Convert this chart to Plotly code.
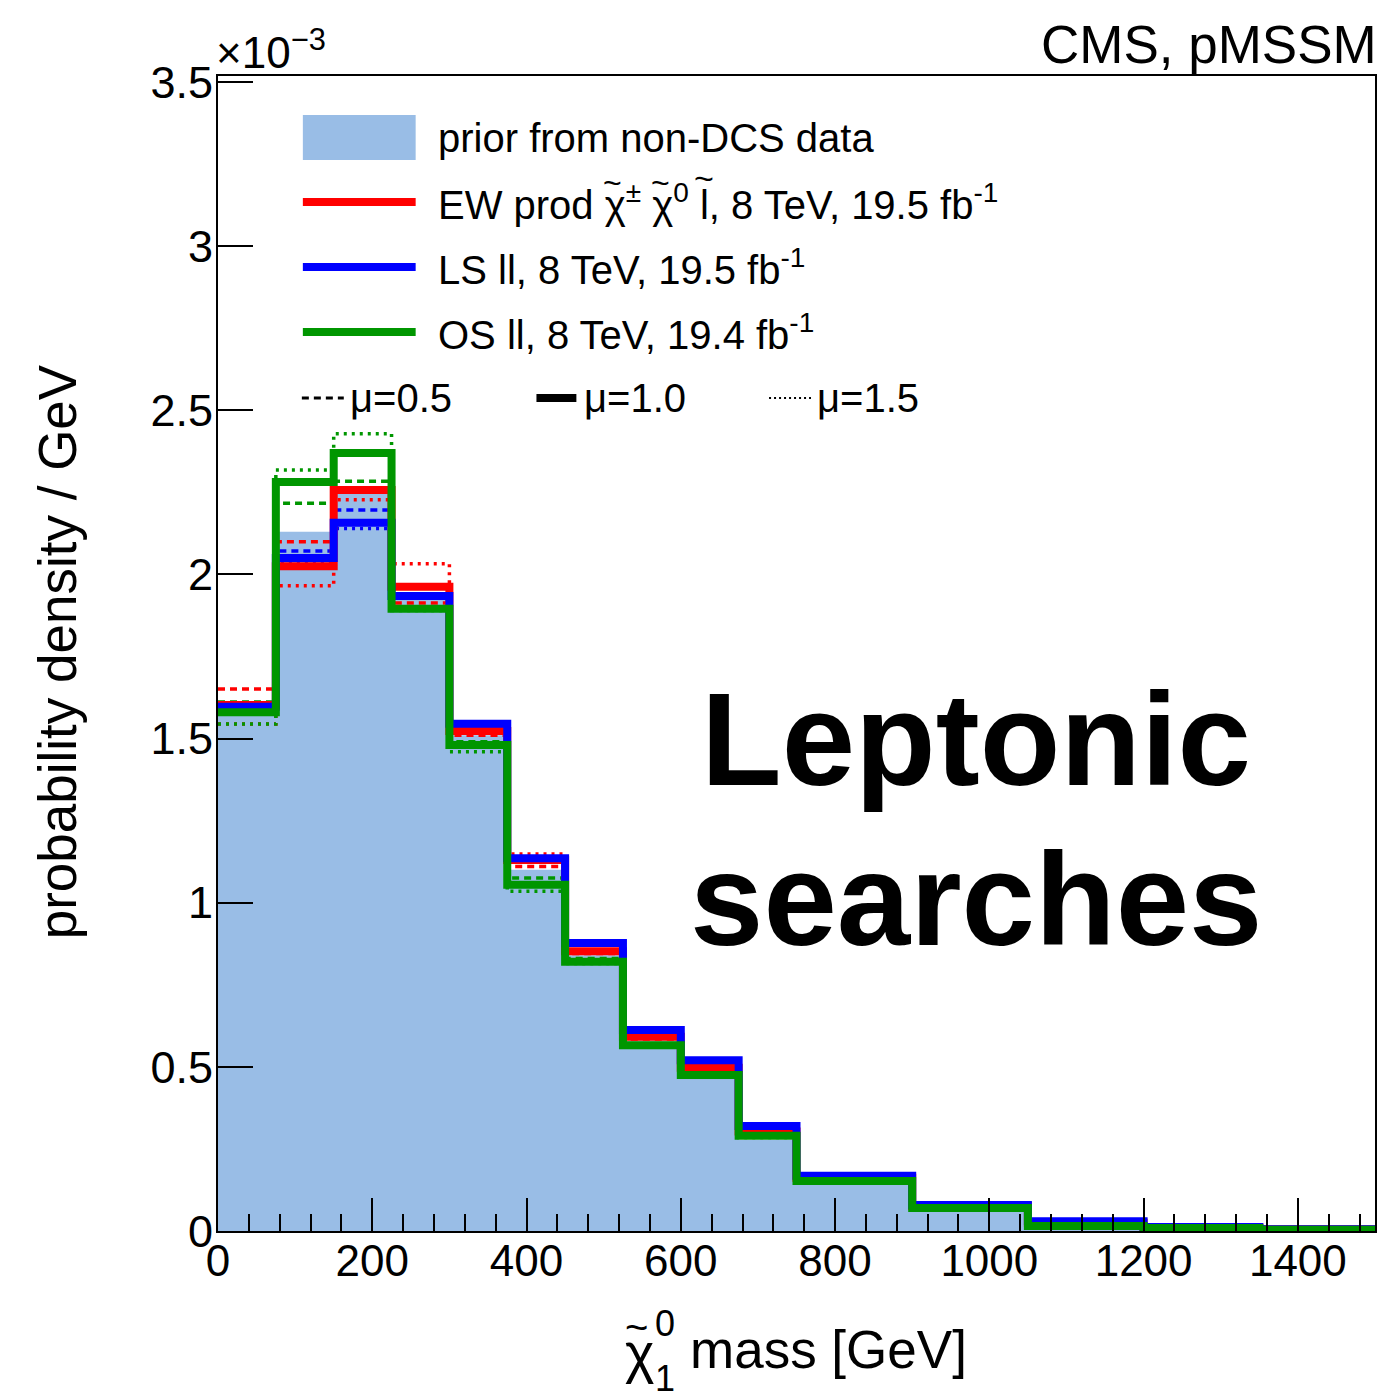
import plotly.graph_objects as go

# ---------------- data (probability density / GeV, in units of 1e-3) ----------------
edges = [0, 75, 150, 225, 300, 375, 450, 525, 600, 675, 750, 900, 1050, 1200, 1350, 1500]

prior = [1.59, 2.13, 2.245, 1.93, 1.51, 1.10, 0.84, 0.58, 0.49, 0.277, 0.14, 0.058, 0.015, 0.007, 0.003]

ew_mu05 = [1.651, 2.099, 2.262, 1.913, 1.510, 1.110, 0.845, 0.585, 0.490, 0.300, 0.160, 0.075, 0.028, 0.011, 0.005]
ew_mu10 = [1.602, 2.025, 2.257, 1.962, 1.523, 1.130, 0.852, 0.592, 0.497, 0.303, 0.162, 0.076, 0.025, 0.011, 0.005]
ew_mu15 = [1.544, 1.965, 2.227, 2.032, 1.525, 1.148, 0.857, 0.594, 0.500, 0.305, 0.163, 0.077, 0.026, 0.011, 0.005]

ls_mu05 = [1.600, 2.071, 2.196, 1.930, 1.535, 1.125, 0.870, 0.605, 0.515, 0.315, 0.166, 0.078, 0.029, 0.012, 0.005]
ls_mu10 = [1.597, 2.050, 2.157, 1.934, 1.545, 1.135, 0.877, 0.612, 0.520, 0.320, 0.168, 0.079, 0.030, 0.012, 0.005]
ls_mu15 = [1.598, 2.040, 2.140, 1.940, 1.550, 1.140, 0.880, 0.614, 0.522, 0.322, 0.170, 0.080, 0.031, 0.012, 0.005]

os_mu05 = [1.611, 2.217, 2.284, 1.900, 1.490, 1.075, 0.830, 0.570, 0.480, 0.292, 0.154, 0.072, 0.016, 0.009, 0.004]
os_mu10 = [1.580, 2.281, 2.370, 1.895, 1.480, 1.055, 0.820, 0.566, 0.475, 0.290, 0.152, 0.070, 0.015, 0.009, 0.004]
os_mu15 = [1.544, 2.318, 2.428, 1.890, 1.460, 1.035, 0.815, 0.560, 0.470, 0.285, 0.150, 0.069, 0.015, 0.009, 0.004]

x_ticks = [0, 200, 400, 600, 800, 1000, 1200, 1400]
y_ticks = [0, 0.5, 1, 1.5, 2, 2.5, 3, 3.5]
y_ticktext = ["0", "0.5", "1", "1.5", "2", "2.5", "3", "3.5"]

# ---------------- style ----------------
FONT = "Liberation Sans"
FILL = "#99BDE6"
RED, BLUE, GREEN = "#FF0000", "#0000FF", "#009600"
W, H = 1383, 1392
L, R, T, B = 218, 6, 76, 161
PW, PH = W - L - R, H - T - B


def px(xp):
    return (xp - L) / PW


def py(yp):
    return (H - B - yp) / PH


def step(vals, color, width, dash="solid"):
    return go.Scatter(
        x=edges, y=list(vals) + [vals[-1]], mode="lines",
        line=dict(shape="hv", color=color, width=width, dash=dash),
        showlegend=False, hoverinfo="skip",
    )


fig = go.Figure()
fig.add_trace(go.Scatter(
    x=edges, y=prior + [prior[-1]], mode="lines",
    line=dict(shape="hv", width=0, color=FILL),
    fill="tozeroy", fillcolor=FILL, showlegend=False, hoverinfo="skip",
))

DASH = "7px,5px"
DOT = "3px,5px"
for vals, col in [(ew_mu05, RED), (ls_mu05, BLUE), (os_mu05, GREEN)]:
    fig.add_trace(step(vals, col, 3.5, DASH))
for vals, col in [(ew_mu15, RED), (ls_mu15, BLUE), (os_mu15, GREEN)]:
    fig.add_trace(step(vals, col, 3.5, DOT))
for vals, col in [(ew_mu10, RED), (ls_mu10, BLUE), (os_mu10, GREEN)]:
    fig.add_trace(step(vals, col, 8))

fig.update_layout(
    width=W, height=H,
    margin=dict(l=L, r=R, t=T, b=B, pad=0),
    paper_bgcolor="white", plot_bgcolor="white",
    font=dict(family=FONT, color="black"),
    showlegend=False,
)
fig.update_xaxes(
    range=[0, 1500], showgrid=False, zeroline=False,
    showline=True, linecolor="black", linewidth=2, mirror=True,
    ticks="inside", ticklen=33, tickwidth=2, tickcolor="black",
    tickvals=x_ticks, ticktext=[str(v) for v in x_ticks],
    tickfont=dict(size=44, family=FONT), ticklabelstandoff=-10,
    minor=dict(ticks="inside", ticklen=17, tickwidth=2, tickcolor="black", dtick=40, tick0=0, showgrid=False),
)
fig.update_yaxes(
    range=[0, 3.518], showgrid=False, zeroline=False,
    showline=True, linecolor="black", linewidth=2, mirror=True,
    ticks="inside", ticklen=35, tickwidth=2, tickcolor="black",
    tickvals=y_ticks, ticktext=y_ticktext,
    tickfont=dict(size=45, family=FONT), ticklabelstandoff=-6,
)

ann = []


def text(s, x, y, size, xanchor="left", yanchor="middle", bold=False, angle=0):
    ann.append(dict(
        text=(f"<b>{s}</b>" if bold else s), x=px(x), y=py(y), xref="paper", yref="paper",
        xanchor=xanchor, yanchor=yanchor, showarrow=False, textangle=angle,
        font=dict(size=size, family=FONT, color="black"),
    ))


# top texts
text("CMS, pMSSM", 1381, 45, 53, xanchor="right")
text("\u00d710<sup>\u22123</sup>", 214, 50, 44, xanchor="left")

# axis titles
text("probability density / GeV", 57, 652, 53, xanchor="center", angle=-90)
text("\u03c7", 624, 1352, 56, xanchor="left")
text("~", 637, 1327, 40, xanchor="center")
text("0", 654, 1323, 36, xanchor="left")
text("1", 654, 1378, 36, xanchor="left")
text("mass [GeV]", 689, 1349, 53, xanchor="left")

# big label
text("Leptonic", 977, 739, 132, xanchor="center", bold=True)
text("searches", 977, 899, 132, xanchor="center", bold=True)

# legend texts
text("prior from non-DCS data", 436, 138, 40)
text("EW prod \u03c7<sup>\u00b1</sup> \u03c7<sup>0</sup> l, 8 TeV, 19.5 fb<sup>-1</sup>", 436, 202, 40)
text("~", 613, 183, 32, xanchor="center")
text("~", 661, 183, 32, xanchor="center")
text("~", 705, 178, 34, xanchor="center")
text("LS ll, 8 TeV, 19.5 fb<sup>-1</sup>", 436, 267, 40)
text("OS ll, 8 TeV, 19.4 fb<sup>-1</sup>", 436, 332, 40)
text("\u03bc=0.5", 348, 398, 40)
text("\u03bc=1.0", 583, 398, 40)
text("\u03bc=1.5", 816, 398, 40)

shapes = [
    dict(type="rect", xref="paper", yref="paper", x0=px(303), x1=px(416), y0=py(160), y1=py(115),
         fillcolor=FILL, line=dict(width=0)),
]
for yy, col in [(202, RED), (267, BLUE), (332, GREEN)]:
    shapes.append(dict(type="line", xref="paper", yref="paper", x0=px(303), x1=px(416), y0=py(yy), y1=py(yy),
                       line=dict(color=col, width=8)))
shapes.append(dict(type="line", xref="paper", yref="paper", x0=px(302), x1=px(344), y0=py(398), y1=py(398),
                   line=dict(color="black", width=3, dash="7px,5px")))
shapes.append(dict(type="line", xref="paper", yref="paper", x0=px(537), x1=px(577), y0=py(398), y1=py(398),
                   line=dict(color="black", width=8)))
shapes.append(dict(type="line", xref="paper", yref="paper", x0=px(770), x1=px(812), y0=py(398), y1=py(398),
                   line=dict(color="black", width=2, dash="2px,3px")))

fig.update_layout(annotations=ann, shapes=shapes)
fig.write_html("out.html")
